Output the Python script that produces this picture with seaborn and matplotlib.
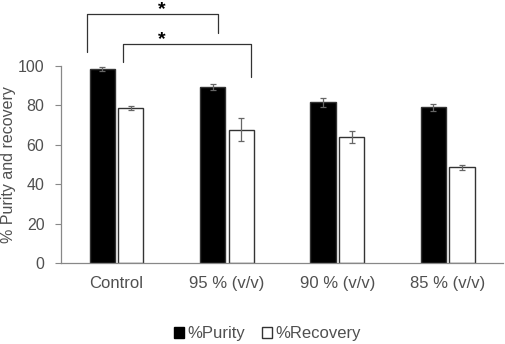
import pandas as pd
import matplotlib
matplotlib.use("Agg")
import matplotlib.pyplot as plt
import seaborn as sns
from matplotlib.patches import Patch

# Values
conditions = ["Control", "95 % (v/v)", "90 % (v/v)", "85 % (v/v)"]
purity = [98.5, 89.2, 81.6, 79.0]
purity_err = [0.9, 1.6, 2.3, 1.8]
recovery = [78.5, 67.8, 64.0, 48.6]
recovery_err = [1.0, 5.8, 3.2, 1.4]
series = ["%Purity", "%Recovery"]

df = pd.DataFrame({
    "condition": conditions * 2,
    "series": [series[0]] * 4 + [series[1]] * 4,
    "value": purity + recovery,
})

sns.set_style("white")
plt.rcParams["font.family"] = ["Liberation Sans", "DejaVu Sans"]
txt = "#505050"

fig = plt.figure(figsize=(5.05, 3.44), dpi=100)
ax = fig.add_axes([0.121, 0.235, 0.875, 0.573])

sns.barplot(data=df, x="condition", y="value", hue="series",
            palette=["black", "white"], width=0.516, gap=0.12,
            edgecolor="#333333", linewidth=1.0, errorbar=None,
            legend=False, ax=ax)

# Error bars on top of each bar
for cont, errs in zip(ax.containers, [purity_err, recovery_err]):
    xs = [p.get_x() + p.get_width() / 2 for p in cont.patches]
    ys = [p.get_height() for p in cont.patches]
    ax.errorbar(xs, ys, yerr=errs, fmt="none", ecolor="#666666",
                elinewidth=0.9, capsize=2.5, capthick=0.9)

ax.set_xlim(-0.5, 3.5)
ax.set_ylim(0, 100)
ax.set_yticks([0, 20, 40, 60, 80, 100])
ax.set_xlabel("")
ax.set_ylabel("% Purity and recovery", fontsize=11.5, color=txt)
ax.yaxis.set_label_coords(-0.102, 0.5)
ax.tick_params(axis="y", left=True, length=4, width=0.8, color="#888888",
               labelsize=11.5, labelcolor=txt, pad=8)
ax.tick_params(axis="x", bottom=False, labelsize=12, labelcolor=txt, pad=6)
for s in ["top", "right"]:
    ax.spines[s].set_visible(False)
for s in ["left", "bottom"]:
    ax.spines[s].set_color("#888888")
    ax.spines[s].set_linewidth(0.9)

# Significance brackets
ax.plot([-0.265, -0.265, 0.92, 0.92], [107, 126.4, 126.4, 116.7],
        color="#333333", lw=0.9, clip_on=False)
ax.text(0.414, 126.3, "*", ha="center", va="baseline", fontsize=14,
        fontweight="bold", color="black")
ax.plot([0.061, 0.061, 1.219, 1.219], [101.9, 111.1, 111.1, 94.3],
        color="#333333", lw=0.9, clip_on=False)
ax.text(0.414, 111.2, "*", ha="center", va="baseline", fontsize=14,
        fontweight="bold", color="black")

# Legend
handles = [Patch(facecolor="black", edgecolor="black", label=series[0]),
           Patch(facecolor="white", edgecolor="#333333", label=series[1])]
fig.legend(handles=handles, loc="center", bbox_to_anchor=(0.53, 0.03),
           ncol=2, frameon=False, fontsize=12, handlelength=0.6,
           handleheight=0.6, handletextpad=0.2, columnspacing=1.0,
           labelcolor=txt)

fig.savefig("out.png", dpi=100)
